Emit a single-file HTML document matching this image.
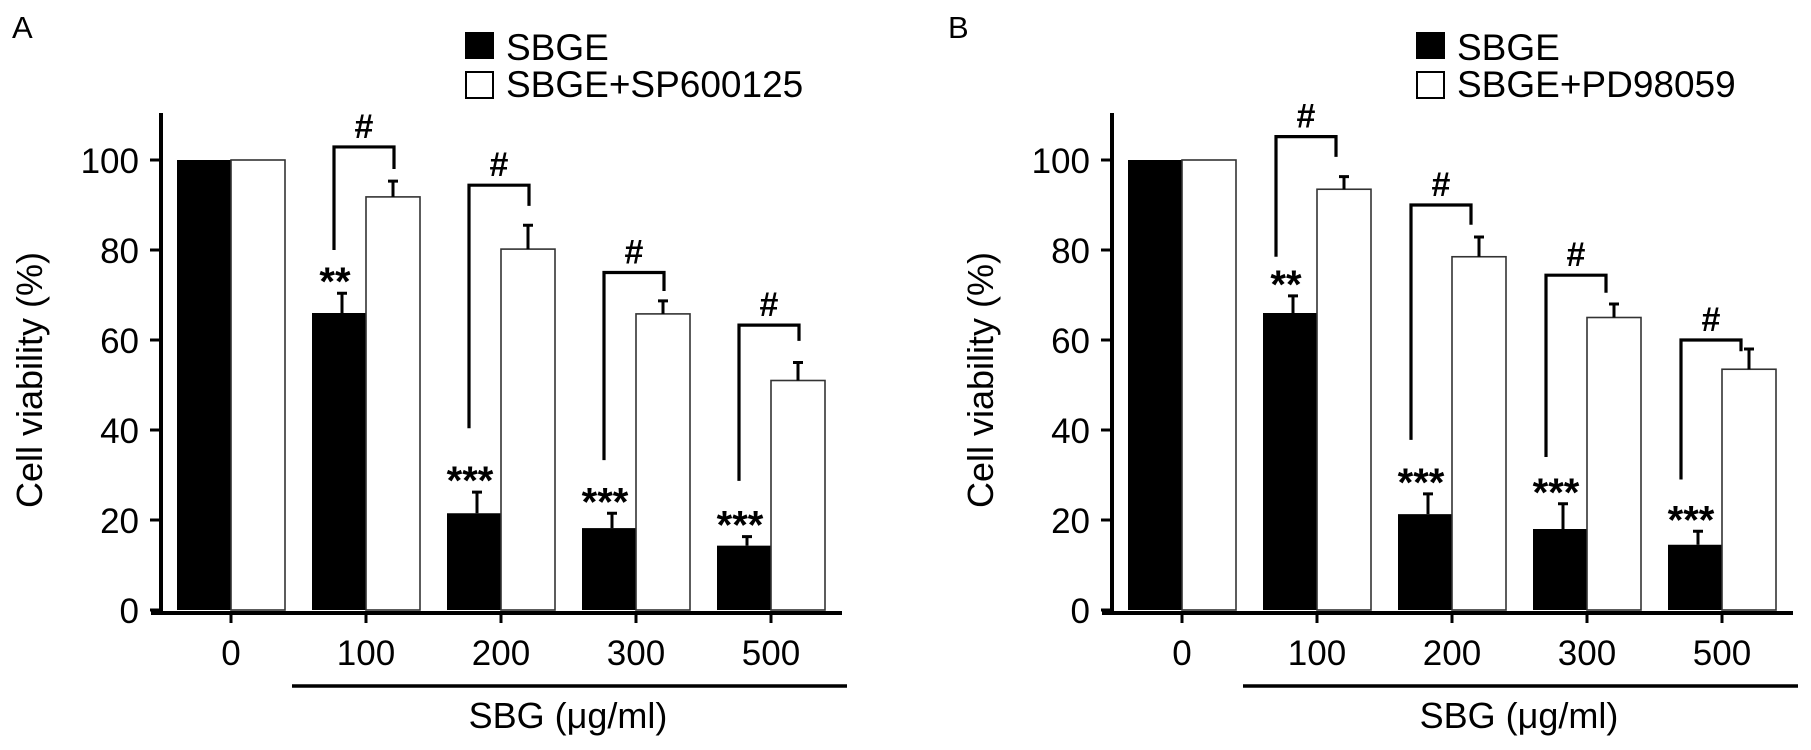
<!DOCTYPE html>
<html><head><meta charset="utf-8"><style>
html,body{margin:0;padding:0;background:#fff;}
svg{display:block;font-family:"Liberation Sans",Arial,sans-serif;}
</style></head><body>
<svg id="fig" width="1811" height="750" viewBox="0 0 1811 750" xmlns="http://www.w3.org/2000/svg"></svg>
<script>
const categories = ["0","100","200","300","500"];
const aBlack = [100, 66, 21.5, 18.2, 14.3];
const aBlackErr = [0, 4.4, 4.7, 3.3, 2.0];
const aWhite = [100, 91.8, 80.2, 65.8, 51];
const aWhiteErr = [0, 3.5, 5.3, 2.9, 4];
const bBlack = [100, 66, 21.3, 18, 14.5];
const bBlackErr = [0, 3.8, 4.5, 5.6, 3];
const bWhite = [100, 93.5, 78.5, 65, 53.5];
const bWhiteErr = [0, 2.8, 4.4, 3, 4.5];
const aStars = ["", "**", "***", "***", "***"];
const bStars = ["", "**", "***", "***", "***"];
const aBracketTop = [null, 102.9, 94.4, 75, 63.3];
const aBracketLeftBottom = [null, 80, 40.4, 33.3, 28.7];
const aBracketRightBottom = [null, 98, 89.8, 70.9, 59.8];
const bBracketTop = [null, 105.2, 90, 74.4, 60];
const bBracketLeftBottom = [null, 78.5, 37.8, 34, 29];
const bBracketRightBottom = [null, 100.7, 85.6, 70.5, 57.5];
const yTicks = [0, 20, 40, 60, 80, 100];

const NS = "http://www.w3.org/2000/svg";
const svg = document.getElementById("fig");
function mk(tag, attrs, parent, text) {
  const e = document.createElementNS(NS, tag);
  for (const k in attrs) e.setAttribute(k, attrs[k]);
  if (text !== undefined) e.textContent = text;
  (parent || svg).appendChild(e);
  return e;
}
function yScale(v) { return 610 - 4.5 * v; }

function panel(cfg) {
  const g = mk("g", {});
  
  
  const ax = cfg.axisX;
  const xc = i => ax + 70 + 135 * i;
  const bw = 54;
  const lt = mk("text", {x: cfg.letterX, y: 38, "font-size": 31}, g, cfg.letter);
  
  
  const lg = mk("g", {}, g);
  
  
  const e1 = mk("g", {}, lg);
  
  
  mk("rect", {x: ax + 304, y: 32, width: 29, height: 27, fill: "#000"}, e1);
  mk("text", {x: ax + 345, y: 60, "font-size": 37}, e1, "SBGE");
  const e2 = mk("g", {}, lg);
  
  
  mk("rect", {x: ax + 305, y: 72, width: 27, height: 26, fill: "#fff", stroke: "#000", "stroke-width": 2}, e2);
  mk("text", {x: ax + 345, y: 97, "font-size": 37}, e2, cfg.legend2);
  for (let i = 0; i < categories.length; i++) {
    const c = xc(i);
    const rb = mk("rect", {x: c - bw, y: yScale(cfg.black[i]), width: bw, height: yScale(0) - yScale(cfg.black[i]), fill: "#000"}, g);
    
    
    const rw = mk("rect", {x: c, y: yScale(cfg.white[i]), width: bw, height: yScale(0) - yScale(cfg.white[i]), fill: "#fff", stroke: "#333", "stroke-width": 1.6}, g);
    
    
    if (cfg.blackErr[i] > 0) {
      const bx = c - bw / 2 + 3, t = yScale(cfg.black[i] + cfg.blackErr[i]);
      const eb = mk("path", {d: `M${bx},${yScale(cfg.black[i])}V${t}M${bx-5},${t}H${bx+5}`, stroke: "#000", "stroke-width": 3, fill: "none"}, g);
      
      
    }
    if (cfg.whiteErr[i] > 0) {
      const wx = c + bw / 2, t = yScale(cfg.white[i] + cfg.whiteErr[i]);
      const ew = mk("path", {d: `M${wx},${yScale(cfg.white[i])}V${t}M${wx-5},${t}H${wx+5}`, stroke: "#000", "stroke-width": 3, fill: "none"}, g);
      
      
    }
    if (cfg.stars[i]) {
      const st = mk("text", {x: c - bw / 2 - 4, y: yScale(cfg.black[i] + cfg.blackErr[i]) + 2, "font-size": 40, "font-weight": "bold", "text-anchor": "middle"}, g, cfg.stars[i]);
      
      
    }
    if (cfg.bTop[i] !== null) {
      const lx = c + cfg.leftOff, rx = c + cfg.rightOff, ty = yScale(cfg.bTop[i]);
      const br = mk("path", {d: `M${lx},${yScale(cfg.bLeft[i])}V${ty}H${rx}V${yScale(cfg.bRight[i])}`, stroke: "#000", "stroke-width": 3.2, fill: "none"}, g);
      
      
      const hs = mk("text", {x: (lx + rx) / 2, y: ty - 9, "font-size": 34, "font-weight": "bold", "text-anchor": "middle"}, g, "#");
      
      
    }
  }
  const ya = mk("g", {}, g);
  
  
  mk("line", {x1: ax, y1: 113, x2: ax, y2: 614, stroke: "#000", "stroke-width": 4}, ya);
  yTicks.forEach(v => {
    mk("line", {x1: ax - 11, y1: yScale(v), x2: ax, y2: yScale(v), stroke: "#000", "stroke-width": 3}, ya);
    const tl = mk("text", {x: ax - 22, y: yScale(v) + 13, "font-size": 35, "text-anchor": "end"}, ya, String(v));
    
    
  });
  const yt = mk("text", {x: 0, y: 0, "font-size": 36, "text-anchor": "middle", transform: `translate(${ax - 119},${380}) rotate(-90)`}, ya, "Cell viability (%)");
  
  
  const xa = mk("g", {}, g);
  
  
  mk("line", {x1: ax - 10, y1: 613, x2: ax + 681, y2: 613, stroke: "#000", "stroke-width": 4}, xa);
  categories.forEach((cName, i) => {
    mk("line", {x1: xc(i), y1: 613, x2: xc(i), y2: 623, stroke: "#000", "stroke-width": 3}, xa);
    const xl = mk("text", {x: xc(i), y: 665, "font-size": 35, "text-anchor": "middle"}, xa, cName);
    
    
  });
  const ul = mk("line", {x1: ax + 131, y1: 686, x2: ax + 686, y2: 686, stroke: "#000", "stroke-width": 3.5}, xa);
  
  
  const xt = mk("text", {x: ax + 407, y: 728, "font-size": 36, "text-anchor": "middle"}, xa, "SBG (\u03bcg/ml)");
  
  
}

panel({name: "panel-a", letter: "A", letterX: 12, axisX: 161, legend2: "SBGE+SP600125",
  black: aBlack, blackErr: aBlackErr, white: aWhite, whiteErr: aWhiteErr, stars: aStars,
  bTop: aBracketTop, bLeft: aBracketLeftBottom, bRight: aBracketRightBottom, leftOff: -32, rightOff: 28});
panel({name: "panel-b", letter: "B", letterX: 948, axisX: 1112, legend2: "SBGE+PD98059",
  black: bBlack, blackErr: bBlackErr, white: bWhite, whiteErr: bWhiteErr, stars: bStars,
  bTop: bBracketTop, bLeft: bBracketLeftBottom, bRight: bBracketRightBottom, leftOff: -41, rightOff: 19});
</script>
</body></html>
